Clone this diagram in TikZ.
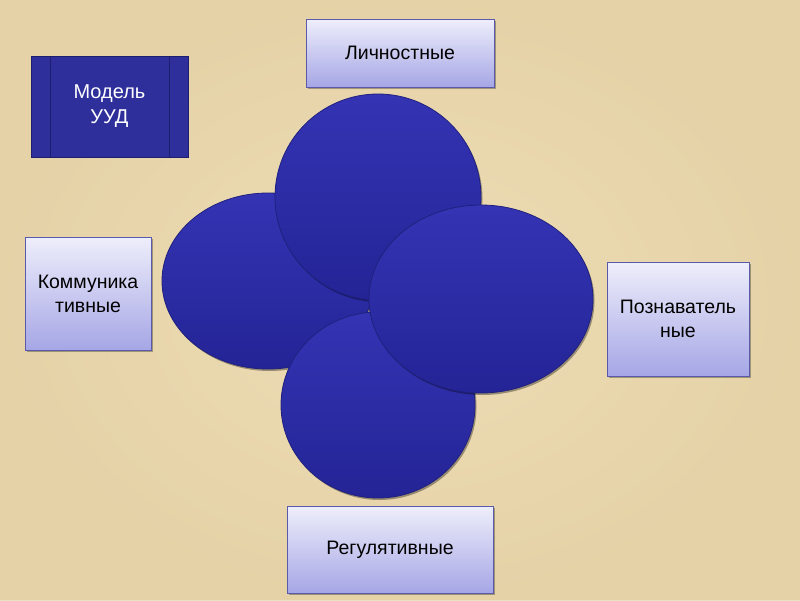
\documentclass[tikz,border=0pt]{standalone}
\usepackage{fontspec}
\setmainfont{Liberation Sans}
\usetikzlibrary{shadows,shapes.geometric}
\definecolor{parch}{HTML}{EEDDB6}
\definecolor{parchdark}{HTML}{E0CB9E}
\definecolor{blobtop}{HTML}{3434B4}
\definecolor{blobbot}{HTML}{242496}
\definecolor{blobedge}{HTML}{20207E}
\definecolor{lightTop}{HTML}{EEEEFB}
\definecolor{lightBot}{HTML}{A6A6E6}
\definecolor{lightEdge}{HTML}{5A5AAA}
\definecolor{darkBox}{HTML}{2F2F9C}
\definecolor{darkEdge}{HTML}{1E1E70}
\tikzset{
  blob/.style={ellipse, draw=blobedge, line width=0.8pt, top color=blobtop, bottom color=blobbot,
    drop shadow={shadow xshift=1.5pt, shadow yshift=-2pt, fill=black, opacity=0.35}},
  lightbox/.style={draw=lightEdge, line width=0.8pt, top color=lightTop, bottom color=lightBot,
    drop shadow={shadow xshift=2pt, shadow yshift=-2pt, fill=black, opacity=0.3},
    font=\fontsize{19.5}{24}\selectfont, text=black, align=center},
  darkbox/.style={draw=darkEdge, line width=0.8pt, fill=darkBox, text=white,
    font=\fontsize{20}{25}\selectfont, align=center}
}
\begin{document}
\begin{tikzpicture}[x=1pt,y=-1pt]
\useasboundingbox (0,0) rectangle (800,600);
\fill[parch] (0,0) rectangle (800,600);
\shade[inner color=parch, outer color=parchdark, opacity=0.6] (0,0) rectangle (800,600);
% ellipses
\node[blob, minimum width=212pt, minimum height=176pt] (left) at (268,281) {};
\node[blob, minimum width=206pt, minimum height=206pt] (top) at (378,197) {};
\node[blob, minimum width=194pt, minimum height=186pt] (bottom) at (378,405) {};
\node[blob, minimum width=224pt, minimum height=188pt] (right) at (481,299) {};
% dark box
\node[darkbox, minimum width=157pt, minimum height=101pt] (model) at (109.5,106.5) {Модель\\УУД};
\draw[darkEdge, line width=0.8pt] ([xshift=20pt]model.north west) -- ([xshift=20pt]model.south west);
\draw[darkEdge, line width=0.8pt] ([xshift=-19pt]model.north east) -- ([xshift=-19pt]model.south east);
% light boxes
\node[lightbox, minimum width=188pt, minimum height=68pt] (lich) at (400,53) {Личностные};
\node[lightbox, minimum width=126pt, minimum height=113pt] (komm) at (88,293.5) {Коммуника\\тивные};
\node[lightbox, minimum width=142pt, minimum height=114pt] (pozn) at (678,319) {Познаватель\\ные};
\node[lightbox, minimum width=206pt, minimum height=87pt] (reg) at (390,549.5) {Регулятивные};
\end{tikzpicture}
\end{document}
